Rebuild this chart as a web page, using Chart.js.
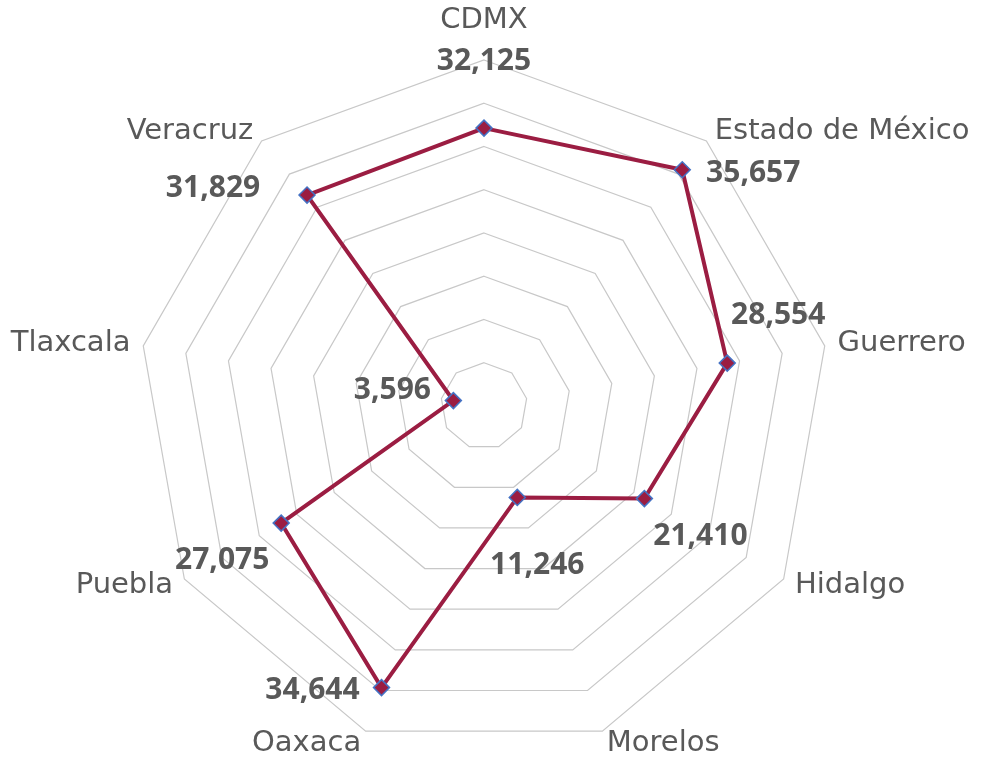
<!DOCTYPE html>
<html>
<head>
<meta charset="utf-8">
<script src="https://cdn.jsdelivr.net/npm/chart.js@4"></script>
<style>
html, body { margin: 0; padding: 0; background: #fff; }
#wrap { width: 990px; height: 762px; position: relative; }
</style>
</head>
<body>
<div id="wrap"><canvas id="radarEstados"></canvas></div>
<script>
// Datos por estado
var estados = ['CDMX', 'Estado de México', 'Guerrero', 'Hidalgo', 'Morelos', 'Oaxaca', 'Puebla', 'Tlaxcala', 'Veracruz'];
var casos = [32125, 35657, 28554, 21410, 11246, 34644, 27075, 3596, 31829];
var escalaMax = 40000;
var escalaPaso = 5000;

// desplazamiento (px) de cada etiqueta de valor respecto a su punto
var desplazEtiquetas = [[0, -67], [71, 4], [51, -48], [56, 38], [20, 68], [-69, 3], [-59, 37], [-61, -10], [-94, -7]];

var colorLinea = '#9B1D42';
var colorTexto = '#595959';

var etiquetasPlugin = {
    id: 'etiquetas',
    afterDraw: function (chart) {
        var ctx = chart.ctx;
        var scale = chart.scales.r;
        var meta = chart.getDatasetMeta(0);
        ctx.save();

        // nombres de los estados alrededor del radar
        ctx.font = '29px "DejaVu Sans"';
        ctx.fillStyle = colorTexto;
        ctx.textBaseline = 'middle';
        chart.data.labels.forEach(function (lbl, i) {
            var pos = scale.getPointPosition(i, scale.drawingArea + 13);
            var a = pos.angle + Math.PI / 2;
            var s = Math.sin(a), c = Math.cos(a);
            var y = pos.y;
            if (Math.abs(s) < 0.05) {
                ctx.textAlign = 'center';
                if (c > 0) y -= 27;
            } else {
                ctx.textAlign = s > 0 ? 'left' : 'right';
            }
            ctx.fillText(lbl, pos.x, y);
        });

        // valores junto a cada punto
        ctx.font = 'bold 30px "Open Sans"';
        ctx.textAlign = 'center';
        meta.data.forEach(function (pt, i) {
            var d = desplazEtiquetas[i];
            ctx.fillText(casos[i].toLocaleString('en-US'), pt.x + d[0], pt.y + d[1]);
        });
        ctx.restore();
    }
};

var ctx = document.getElementById('radarEstados').getContext('2d');
var radarEstados = new Chart(ctx, {
    type: 'radar',
    data: {
        labels: estados,
        datasets: [{
            label: 'Casos',
            data: casos,
            borderColor: colorLinea,
            borderWidth: 4,
            backgroundColor: 'rgba(0,0,0,0)',
            fill: false,
            tension: 0,
            pointStyle: 'rectRot',
            pointRadius: 8,
            pointHoverRadius: 8,
            pointBackgroundColor: colorLinea,
            pointBorderColor: '#4472C4',
            pointBorderWidth: 1.5
        }]
    },
    options: {
        responsive: true,
        maintainAspectRatio: false,
        animation: false,
        layout: {
            padding: { top: 60, bottom: 10, left: 138, right: 160 }
        },
        plugins: {
            legend: { display: false },
            tooltip: { enabled: false }
        },
        scales: {
            r: {
                min: 0,
                max: escalaMax,
                ticks: { display: false, stepSize: escalaPaso },
                grid: { circular: false, color: '#C8C8C8', lineWidth: 1.2 },
                angleLines: { display: false },
                pointLabels: { display: false }
            }
        }
    },
    plugins: [etiquetasPlugin]
});
</script>
</body>
</html>
